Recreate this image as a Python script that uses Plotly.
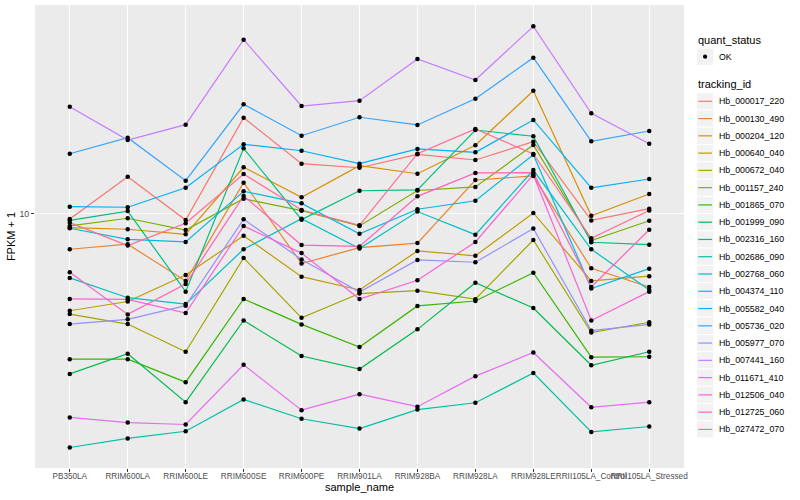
import plotly.graph_objects as go

samples = ["PB350LA", "RRIM600LA", "RRIM600LE", "RRIM600SE", "RRIM600PE", "RRIM901LA",
           "RRIM928BA", "RRIM928LA", "RRIM928LE", "RRII105LA_Control", "RRII105LA_Stressed"]

tracking_ids = ["Hb_000017_220", "Hb_000130_490", "Hb_000204_120", "Hb_000640_040", "Hb_000672_040",
                "Hb_001157_240", "Hb_001865_070", "Hb_001999_090", "Hb_002316_160", "Hb_002686_090",
                "Hb_002768_060", "Hb_004374_110", "Hb_005582_040", "Hb_005736_020", "Hb_005977_070",
                "Hb_007441_160", "Hb_011671_410", "Hb_012506_040", "Hb_012725_060", "Hb_027472_070"]

hb_000017_220 = [9.59, 13.26, 9.51, 20.86, 14.66, 14.21, 15.75, 15.08, 17.35, 9.48, 10.38]
hb_000130_490 = [7.60, 7.90, 5.96, 12.67, 6.81, 7.70, 7.97, 12.93, 13.34, 6.57, 5.69]
hb_000204_120 = [8.97, 8.86, 8.52, 14.26, 11.33, 14.43, 13.57, 16.88, 25.66, 9.83, 11.61]
hb_000640_040 = [4.74, 5.09, 6.24, 8.43, 6.16, 5.56, 7.50, 7.23, 10.04, 5.96, 6.18]
hb_000672_040 = [4.62, 4.28, 3.46, 7.11, 4.49, 5.41, 5.53, 5.18, 8.16, 4.01, 4.34]
hb_001157_240 = [9.09, 9.64, 8.81, 11.20, 10.22, 9.09, 11.93, 12.26, 16.92, 8.13, 9.46]
hb_001865_070 = [3.27, 3.27, 2.74, 5.19, 4.27, 3.59, 4.92, 5.11, 6.35, 3.32, 3.33]
hb_001999_090 = [2.92, 3.41, 2.35, 4.40, 3.35, 3.03, 4.11, 5.88, 4.84, 3.12, 3.46]
hb_002316_160 = [9.49, 10.19, 5.49, 16.49, 9.54, 11.91, 11.98, 18.98, 18.09, 8.02, 7.87]
hb_002686_090 = [1.66, 1.78, 1.88, 2.40, 2.07, 1.92, 2.22, 2.34, 2.94, 1.87, 1.95]
hb_002768_060 = [6.10, 5.24, 4.99, 7.60, 9.61, 7.64, 10.15, 8.50, 13.96, 7.60, 5.56]
hb_004374_110 = [8.93, 8.20, 8.04, 11.86, 10.81, 8.56, 10.33, 11.03, 15.70, 5.62, 6.55]
hb_005582_040 = [10.54, 10.49, 12.19, 17.01, 16.19, 14.66, 16.41, 16.00, 20.50, 12.18, 13.03]
hb_005736_020 = [15.82, 17.89, 12.86, 23.12, 18.17, 20.93, 19.73, 24.14, 33.06, 17.41, 18.84]
hb_005977_070 = [4.28, 4.44, 4.93, 9.56, 7.03, 5.47, 7.00, 6.88, 8.91, 4.07, 4.27]
hb_007441_160 = [22.70, 17.58, 19.77, 37.96, 22.82, 23.77, 32.73, 27.86, 42.07, 21.58, 17.09]
hb_011671_410 = [2.09, 2.01, 1.98, 3.13, 2.21, 2.50, 2.27, 2.87, 3.44, 2.26, 2.35]
hb_012506_040 = [5.19, 5.17, 4.66, 9.09, 7.38, 5.19, 5.99, 8.04, 13.47, 4.40, 5.49]
hb_012725_060 = [6.37, 4.61, 5.82, 11.44, 7.85, 7.77, 11.41, 13.65, 13.68, 5.69, 8.83]
hb_027472_070 = [9.32, 7.82, 9.28, 13.54, 10.27, 9.13, 15.82, 19.13, 15.79, 8.27, 10.23]

series = [hb_000017_220, hb_000130_490, hb_000204_120, hb_000640_040, hb_000672_040,
          hb_001157_240, hb_001865_070, hb_001999_090, hb_002316_160, hb_002686_090,
          hb_002768_060, hb_004374_110, hb_005582_040, hb_005736_020, hb_005977_070,
          hb_007441_160, hb_011671_410, hb_012506_040, hb_012725_060, hb_027472_070]

colors = ["#F8766D", "#EA8331", "#D89000", "#C09B00", "#A3A500", "#7CAE00", "#39B600",
          "#00BB4E", "#00BF7D", "#00C1A3", "#00BFC4", "#00BAE0", "#00B0F6", "#35A2FF",
          "#9590FF", "#C77CFF", "#E76BF3", "#FA62DB", "#FF62BC", "#FF6C91"]

FONT = "Liberation Sans, Arial, Helvetica, sans-serif"

fig = go.Figure()
for tid, vals, col in zip(tracking_ids, series, colors):
    fig.add_trace(go.Scatter(x=samples, y=vals, mode="lines", name=tid,
                             line=dict(color=col, width=1.2), showlegend=False))
for tid, vals in zip(tracking_ids, series):
    fig.add_trace(go.Scatter(x=samples, y=vals, mode="markers", name=tid,
                             marker=dict(color="black", size=4.5), showlegend=False))

# layout geometry (pixels)
L, R, T, B = 35, 116, 5, 32
PW, PH = 800 - L - R, 500 - T - B


def fx(px):
    return (px - L) / PW


def fy(py):
    return (500 - B - py) / PH


shapes = []
annotations = []

# legend: quant_status
annotations.append(dict(x=fx(696), y=fy(40.5), xref="paper", yref="paper", text="quant_status",
                        showarrow=False, xanchor="left", yanchor="middle",
                        font=dict(family=FONT, size=11, color="black")))
shapes.append(dict(type="rect", xref="paper", yref="paper", x0=fx(696.5), x1=fx(713.8),
                   y0=fy(48.1), y1=fy(65.4), fillcolor="#F2F2F2", line=dict(color="white", width=1)))
shapes.append(dict(type="circle", xref="paper", yref="paper", x0=fx(703.0), x1=fx(707.2),
                   y0=fy(54.6), y1=fy(58.8), fillcolor="black", line=dict(color="black", width=0)))
annotations.append(dict(x=fx(716.7), y=fy(56.7), xref="paper", yref="paper", text="OK",
                        showarrow=False, xanchor="left", yanchor="middle",
                        font=dict(family=FONT, size=8.8, color="black")))

# legend: tracking_id
annotations.append(dict(x=fx(696), y=fy(84.3), xref="paper", yref="paper", text="tracking_id",
                        showarrow=False, xanchor="left", yanchor="middle",
                        font=dict(family=FONT, size=11, color="black")))
step = 17.27
for i, (tid, col) in enumerate(zip(tracking_ids, colors)):
    cy = 101.3 + i * step
    shapes.append(dict(type="rect", xref="paper", yref="paper", x0=fx(696.5), x1=fx(713.8),
                       y0=fy(cy - step / 2), y1=fy(cy + step / 2), fillcolor="#F2F2F2",
                       line=dict(color="white", width=1)))
    shapes.append(dict(type="line", xref="paper", yref="paper", x0=fx(698.3), x1=fx(712.0),
                       y0=fy(cy), y1=fy(cy), line=dict(color=col, width=1.2)))
    annotations.append(dict(x=fx(716.7), y=fy(cy), xref="paper", yref="paper", text=tid,
                            showarrow=False, xanchor="left", yanchor="middle",
                            font=dict(family=FONT, size=8.8, color="black")))

fig.update_layout(
    width=800, height=500,
    margin=dict(l=L, r=R, t=T, b=B, pad=0),
    plot_bgcolor="#EBEBEB", paper_bgcolor="white",
    font=dict(family=FONT, size=11, color="black"),
    showlegend=False,
    shapes=shapes, annotations=annotations,
)
fig.update_xaxes(
    type="category", range=[-0.6, 10.6], tickmode="array", tickvals=samples, ticktext=samples,
    tickangle=0, ticks="outside", ticklen=3, tickwidth=1, tickcolor="#333333",
    tickfont=dict(family=FONT, size=8.2, color="#4D4D4D"), ticklabelstandoff=-3,
    showgrid=True, gridcolor="white", gridwidth=1.1, zeroline=False, showline=False,
    title=dict(text="sample_name", font=dict(family=FONT, size=11, color="black"), standoff=0),
    automargin=False,
)
fig.update_yaxes(
    type="log", range=[0.1517, 1.695], tickmode="array", tickvals=[10], ticktext=["10"],
    ticks="outside", ticklen=3, tickwidth=1, tickcolor="#333333",
    tickfont=dict(family=FONT, size=8.8, color="#4D4D4D"),
    showgrid=True, gridcolor="white", gridwidth=1.1, zeroline=False, showline=False,
    title=dict(text="FPKM + 1", font=dict(family=FONT, size=11, color="black"), standoff=1),
    automargin=False,
)

fig.write_html("out.html", config={"displayModeBar": False},
               post_script="document.body.style.margin='0';document.body.style.padding='0';")
